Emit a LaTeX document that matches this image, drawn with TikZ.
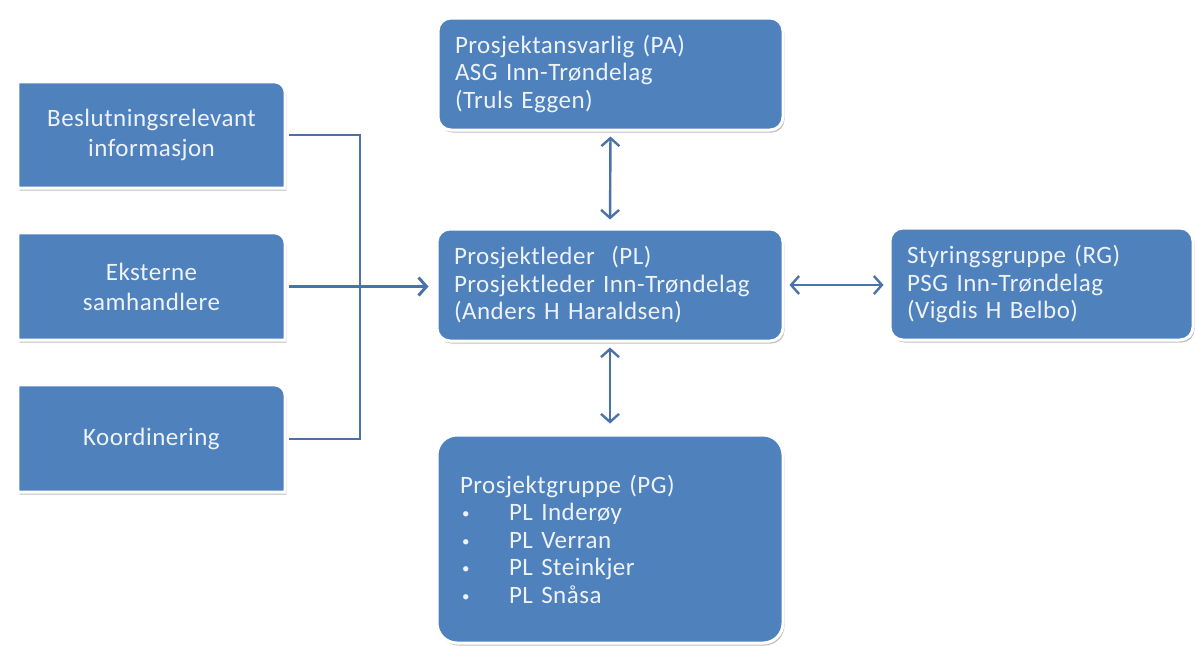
\documentclass[tikz,border=0pt]{standalone}
\usepackage{fontspec}
\setmainfont{Carlito}[LetterSpace=2]
\usetikzlibrary{arrows.meta,shadows,backgrounds}
\definecolor{boxblue}{HTML}{4F81BD}
\definecolor{txtc}{HTML}{EEF2F9}
\definecolor{linec}{HTML}{4A72AA}
\tikzset{
  boxfont/.style={font=\fontsize{25}{27.5}\selectfont, text=txtc},
  sq/.style={boxfont, draw=none, inner sep=0pt, align=center},
  rbox/.style={boxfont, rectangle, rounded corners=13pt, fill=boxblue, draw=white, line width=3pt,
    drop shadow={shadow xshift=1.5pt, shadow yshift=-2.5pt, opacity=0.25, fill=black},
    inner xsep=17pt, inner ysep=0pt, align=left, minimum height=112pt},
  leftshape/.style={fill=boxblue, draw=white, line width=3pt,
    drop shadow={shadow xshift=1.5pt, shadow yshift=-2.5pt, opacity=0.25, fill=black}},
  conn/.style={draw=linec, line width=2pt},
  barrow/.style={draw=linec, line width=2.4pt, {Straight Barb[length=8pt,width=18pt]}-{Straight Barb[length=8pt,width=18pt]}},
  sarrow/.style={draw=linec, line width=3pt, -{Straight Barb[length=8pt,width=18pt]}},
}
\begin{document}
\begin{tikzpicture}[x=1pt,y=-1pt]
\useasboundingbox (0,0) rectangle (1196,646);
% left boxes (text nodes)
\node[sq, minimum width=267pt, minimum height=106pt, font=\fontsize{25}{30}\selectfont] (b1) at (151.5,135) {Beslutningsrelevant\\informasjon};
\node[sq, minimum width=267pt, minimum height=107pt, font=\fontsize{25}{30}\selectfont] (b2) at (151.5,286.5) {Eksterne\\samhandlere};
\node[sq, minimum width=267pt, minimum height=107pt] (b3) at (151.5,438.5) {Koordinering};
\begin{scope}[on background layer]
  \foreach \b in {b1,b2,b3}{
    \path[leftshape] (\b.south west) -- (\b.north west) [rounded corners=11pt] -- (\b.north east) [sharp corners] -- (\b.south east) -- cycle;
  }
\end{scope}
% right-hand boxes
\node[rbox, text width=311pt] (pa) at (610.5,74) {Prosjektansvarlig (PA)\\ASG Inn-Trøndelag\\(Truls Eggen)};
\node[rbox, text width=312pt] (pl) at (610,285) {Prosjektleder~ (PL)\\Prosjektleder Inn-Trøndelag\\(Anders H Haraldsen)};
\node[rbox, text width=269pt, inner xsep=17pt] (rg) at (1041.5,284) {Styringsgruppe (RG)\\PSG Inn-Trøndelag\\(Vigdis H Belbo)};
\node[rbox, rounded corners=20pt, text width=300pt, inner xsep=23pt, minimum height=208pt] (pg) at (610,539)
  {Prosjektgruppe (PG)\\
   \hspace*{2pt}\makebox[47pt][l]{\fontsize{15}{15}\selectfont\raisebox{2pt}{•}}PL Inderøy\\
   \hspace*{2pt}\makebox[47pt][l]{\fontsize{15}{15}\selectfont\raisebox{2pt}{•}}PL Verran\\
   \hspace*{2pt}\makebox[47pt][l]{\fontsize{15}{15}\selectfont\raisebox{2pt}{•}}PL Steinkjer\\
   \hspace*{2pt}\makebox[47pt][l]{\fontsize{15}{15}\selectfont\raisebox{2pt}{•}}PL Snåsa};
% connectors
\coordinate (trunk) at (360,286.5);
\draw[conn] ([xshift=4pt]b1.east) -| (trunk);
\draw[conn] ([xshift=4pt]b3.east) -| (trunk);
\draw[sarrow, shorten >=7pt] ([xshift=4pt]b2.east) -- (b2.east -| pl.west);
\draw[barrow, shorten <=5pt, shorten >=8pt] (pa.south) -- (pl.north);
\draw[barrow, shorten <=5pt, shorten >=10pt] (pl.south) -- (pg.north);
\draw[barrow, shorten <=5pt, shorten >=5pt] (pl.east) -- (rg.west |- pl.east);
\end{tikzpicture}
\end{document}
